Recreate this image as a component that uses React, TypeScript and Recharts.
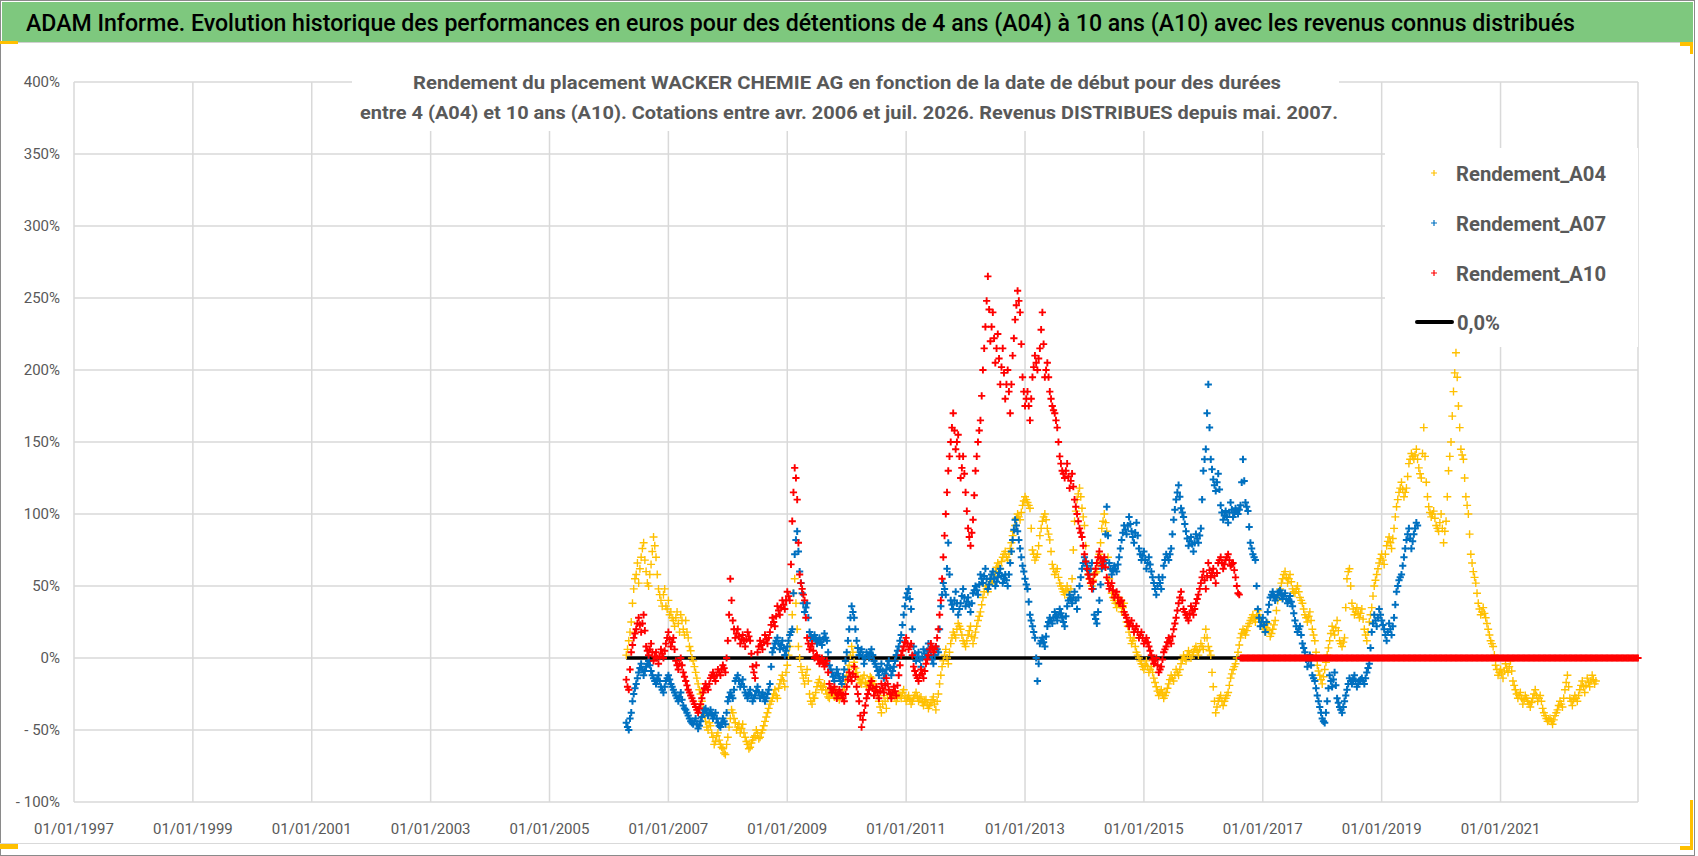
import { ScatterChart, Scatter, XAxis, YAxis, CartesianGrid } from 'recharts'

// samples are half-monthly start dates, the first one mid-April 2006;
// the "b" lists are the readings a quarter-month later (other side of the band)
const START = 2006 + 3.5 / 12
const STEP = 1 / 24
const LINE_END = 2022.99

const yearTicks = [1997, 1999, 2001, 2003, 2005, 2007, 2009, 2011, 2013, 2015, 2017, 2019, 2021]
const pctTicks = [-100, -50, 0, 50, 100, 150, 200, 250, 300, 350, 400]

const title = 'ADAM Informe. Evolution historique des performances en euros pour des détentions de 4 ans (A04) à 10 ans (A10) avec les revenus connus distribués'
const subtitle1 = 'Rendement du placement WACKER CHEMIE AG en fonction de la date de début pour des durées'
const subtitle2 = 'entre 4 (A04) et 10 ans (A10).  Cotations entre avr. 2006 et juil. 2026. Revenus  DISTRIBUES depuis mai. 2007.'

// Rendement_A04 (%), one line per year of start dates
const a04 = [
  2, 12, 25, 48, 58, 52, 70, 80, 60, 50, 65, 84, 70, 48, 40, 44, 36, 40, 32, 26, 28, 24, 30, 20,
  26, 14, 5, -2, -10, -18, -25, -35, -44, -50, -47, -55, -58, -52, -60, -63, -67, -55, -42, -38, -45, -48, -52, -46,
  -55, -60, -62, -57, -54, -52, -55, -50, -44, -38, -32, -28, -22, -28, -18, -12, -20, -5, 8, 30, 55, 20, 0, -10,
  -18, -8, -25, -32, -28, -20, -15, -22, -18, -25, -28, -22, -27, -24, -29, -26, -20, -12, -5, 8, -3, -10, -15, -18,
  -12, -20, -16, -14, -18, -22, -30, -38, -26, -35, -22, -28, -24, -30, -25, -28, -22, -30, -26, -32, -28, -24, -30, -27,
  -33, -29, -35, -31, -27, -36, -25, -12, -2, 6, -4, 10, 18, 14, 24, 20, 12, 8, 16, 22, 10, 18, 26, 32,
  42, 50, 46, 55, 52, 60, 66, 62, 70, 74, 68, 76, 85, 92, 100, 96, 106, 112, 108, 104, 75, 68, 72, 85,
  95, 100, 90, 82, 65, 58, 62, 52, 48, 44, 50, 42, 55, 95, 110, 118, 104, 92, 62, 55, 50, 58, 60, 72,
  90, 100, 88, 55, 45, 40, 35, 42, 32, 38, 25, 18, 10, 14, 4, 0, -4, -8, -2, -10, -6, -14, -20, -26,
  -22, -28, -24, -18, -12, -16, -8, -12, -4, 2, -2, 5, 0, 4, 8, 2, 10, 6, 20, 8, 2, -20, -38, -30,
  -26, -33, -28, -24, -14, -8, -4, 4, 14, 20, 16, 22, 26, 30, 25, 33, 28, 22, 18, 24, 15, 20, 26, 40,
  48, 55, 60, 52, 58, 48, 45, 50, 42, 38, 30, 25, 32, 20, 12, -5, -12, -18, -8, 2, 12, 22, 16, 26,
  12, 8, 14, 55, 62, 38, 30, 35, 28, 34, 20, 12, 25, 35, 50, 58, 66, 72, 65, 78, 84, 76, 90, 105,
  115, 122, 112, 118, 135, 142, 138, 145, 132, 125, 160, 122, 105, 98, 102, 92, 88, 100, 80, 95, 130, 150, 185, 212,
  175, 145, 138, 112, 100, 72, 60, 52, 38, 30, 35, 28, 20, 12, 8, -5, -12, -8, -14, -4, -10, -2, -16, -22,
  -28, -24, -32, -26, -30, -34, -28, -22, -30, -26, -35, -40, -44, -42, -46, -40, -36, -30, -34, -22, -12, -28, -33, -26,
  -30, -22, -16, -24, -14, -20, -12, -18,
]
const a04b = [
  6, 18, 38, 55, 66, 62, 76, 68, 52, 58, 74, 78, 58, 44, 36, 48, 34, 30, 28, 22, 32, 18, 26, 16,
  18, 8, 0, -6, -14, -22, -30, -40, -48, -45, -52, -60, -54, -57, -62, -66, -60, -48, -36, -42, -50, -46, -49, -52,
  -58, -63, -59, -55, -50, -56, -52, -47, -41, -35, -30, -25, -26, -21, -15, -16, -10, 2, 18, 45, 38, 8, -6, -14,
  -12, -16, -30, -28, -24, -17, -19, -20, -22, -27, -24, -25, -23, -27, -25, -22, -16, -8, 2, 4, -7, -13, -17, -14,
  -17, -18, -13, -16, -20, -26, -34, -32, -30, -28, -25, -26, -27, -28, -26, -24, -27, -28, -29, -30, -26, -27, -28, -31,
  -30, -32, -33, -29, -32, -30, -18, -6, 2, 0, 4, 14, 16, 20, 22, 16, 10, 12, 19, 15, 14, 22, 29, 37,
  46, 48, 51, 53, 57, 63, 64, 67, 72, 70, 72, 80, 88, 97, 98, 101, 109, 110, 106, 90, 72, 70, 78, 90,
  98, 96, 86, 74, 62, 60, 56, 50, 46, 47, 46, 48, 75, 102, 114, 112, 98, 78, 58, 52, 54, 59, 66, 80,
  95, 94, 70, 50, 42, 38, 38, 37, 35, 30, 22, 14, 12, 8, 2, -2, -6, -5, -6, -8, -10, -17, -23, -24,
  -25, -26, -21, -15, -14, -12, -10, -8, -1, 0, 2, 2, 2, 6, 5, 6, 8, 14, 14, 5, -10, -30, -34, -28,
  -30, -30, -26, -19, -11, -6, 0, 9, 17, 18, 19, 24, 28, 27, 29, 30, 25, 20, 21, 19, 17, 23, 33, 44,
  52, 58, 56, 55, 53, 46, 48, 46, 40, 34, 28, 29, 26, 16, 4, -9, -15, -13, -3, 7, 17, 19, 21, 19,
  10, 11, 35, 60, 50, 34, 32, 31, 31, 27, 16, 18, 30, 43, 54, 62, 69, 68, 72, 81, 80, 83, 98, 110,
  118, 117, 115, 126, 138, 140, 141, 138, 128, 142, 140, 112, 101, 100, 97, 90, 94, 90, 88, 112, 140, 168, 198, 195,
  160, 141, 125, 106, 86, 66, 56, 45, 34, 32, 31, 24, 16, 10, 2, -8, -10, -11, -9, -7, -6, -9, -19, -25,
  -26, -28, -29, -28, -32, -31, -25, -26, -28, -30, -38, -42, -43, -44, -43, -38, -33, -32, -28, -17, -20, -30, -29, -28,
  -26, -19, -20, -19, -17, -16, -15, -16,
]

// Rendement_A07 (%)
const a07 = [
  -45, -50, -38, -25, -18, -10, -4, -12, -6, -2, -9, -14, -18, -12, -20, -24, -16, -12, -18, -22, -26, -30, -24, -33,
  -36, -40, -44, -46, -42, -49, -44, -38, -35, -40, -36, -42, -38, -45, -48, -42, -46, -30, -24, -28, -16, -12, -20, -15,
  -24, -28, -22, -30, -26, -20, -28, -24, -30, -25, -18, 4, 10, 14, 6, 12, 2, 8, 16, 20, 72, 88, 60, 45,
  32, 38, 18, 12, 16, 10, 14, 9, 17, 12, -5, -10, -16, -8, -14, -18, -8, 4, 20, 36, 28, 12, 2, 6,
  -4, 4, 0, 6, -2, -6, -12, -4, -14, -8, -2, -12, -6, 2, 8, 16, 30, 42, 48, 34, 8, -2, 4, -6,
  6, 0, 10, 2, -4, 8, 4, 36, 52, 44, 80, 40, 34, 46, 30, 38, 48, 36, 42, 32, 45, 50, 44, 58,
  52, 62, 48, 55, 60, 50, 56, 62, 52, 58, 50, 66, 82, 96, 88, 76, 64, 55, 48, 30, 22, 14, -16, 10,
  14, 8, 22, 28, 24, 32, 26, 34, 28, 22, 36, 44, 38, 46, 34, 50, 62, 70, 64, 58, 66, 30, 24, 40,
  62, 68, 105, 66, 58, 64, 60, 70, 82, 92, 86, 98, 88, 80, 94, 76, 68, 74, 62, 70, 60, 52, 44, 56,
  48, 64, 72, 68, 76, 96, 110, 120, 104, 98, 88, 78, 84, 74, 86, 80, 90, 130, 145, 190, 138, 124, 116, 128,
  106, 96, 102, 94, 108, 98, 104, 100, 106, 138, 108, 102, 80, 72, 68, 34, 22, 28, 18, 32, 42, 46, 40, 44,
  47, 41, 45, 38, 43, 36, 26, 18, 22, 10, 4, -6, 2, -12, -16, -26, -34, -42, -45, -30, -12, -20, -10, -28,
  -34, -38, -30, -22, -14, -18, -12, -20, -16, -14, -18, -10, -4, 18, 30, 22, 34, 26, 20, 12, 24, 16, 28, 46,
  54, 58, 70, 82, 90, 76, 86, 94,
]
const a07b = [
  -48, -42, -30, -21, -14, -7, -8, -9, -4, -5, -12, -16, -15, -16, -22, -20, -14, -15, -20, -24, -28, -27, -29, -35,
  -38, -42, -45, -44, -46, -47, -41, -36, -38, -38, -39, -40, -42, -47, -45, -44, -38, -27, -26, -22, -14, -16, -18, -20,
  -26, -25, -26, -28, -23, -24, -26, -27, -28, -22, -6, 7, 12, 10, 9, 7, 5, 12, 18, 45, 82, 74, 52, 38,
  35, 28, 15, 14, 13, 12, 11, 13, 14, 4, -8, -13, -12, -11, -16, -13, -2, 12, 28, 32, 20, 7, 4, 1,
  0, 2, 3, 2, -4, -9, -8, -9, -11, -5, -7, -9, -2, 5, 12, 23, 36, 45, 41, 20, 3, 1, -1, 0,
  3, 5, 6, -1, 2, 6, 20, 44, 48, 62, 58, 37, 40, 38, 34, 43, 42, 39, 37, 38, 47, 47, 51, 55,
  57, 55, 51, 58, 55, 53, 59, 57, 55, 54, 58, 74, 89, 92, 82, 70, 60, 51, 39, 26, 18, 0, -4, 12,
  11, 15, 25, 26, 28, 29, 30, 31, 25, 29, 40, 41, 42, 40, 42, 56, 66, 67, 61, 62, 48, 27, 32, 51,
  65, 86, 85, 62, 61, 62, 65, 76, 87, 89, 92, 93, 84, 87, 85, 72, 71, 68, 66, 65, 56, 48, 50, 52,
  56, 68, 70, 72, 86, 103, 115, 112, 101, 93, 83, 81, 79, 80, 83, 85, 110, 138, 170, 160, 131, 120, 122, 117,
  101, 99, 98, 101, 103, 101, 102, 103, 122, 123, 105, 91, 76, 70, 50, 28, 25, 23, 25, 37, 44, 43, 42, 46,
  44, 43, 41, 40, 39, 31, 22, 20, 16, 7, -1, -2, -5, -14, -21, -30, -38, -44, -38, -21, -16, -15, -19, -31,
  -36, -34, -26, -18, -16, -15, -16, -18, -15, -16, -14, -7, 7, 24, 26, 28, 30, 23, 16, 18, 20, 22, 37, 50,
  56, 64, 76, 86, 83, 81, 90, 92,
]

// Rendement_A10 (%)
const a10 = [
  -15, -22, 4, 14, 20, 28, 18, 30, 8, 2, 10, -2, 4, -4, 6, 0, 10, 18, 8, 14, -2, -8, 0, -10,
  -16, -22, -26, -30, -34, -38, -32, -24, -18, -22, -14, -10, -16, -8, -12, -5, -10, 12, 55, 26, 14, 20, 10, 16,
  8, 18, 12, -6, -14, 4, 12, 6, 16, 10, 18, 28, 22, 36, 30, 40, 34, 46, 40, 95, 132, 110, 58, 48,
  40, 14, 6, 10, 0, 2, -4, 0, -6, -2, -18, -24, -20, -28, -22, -26, -30, -20, -10, -16, -6, -20, -30, -48,
  -38, -28, -22, -16, -26, -20, -28, -18, -24, -14, -22, -28, -20, -26, -12, 2, 8, 14, 6, 10, -6, -12, -16, -8,
  -14, -4, 2, 10, 4, 8, 20, 40, 70, 100, 130, 150, 170, 145, 155, 125, 140, 115, 90, 78, 96, 130, 150, 165,
  200, 230, 265, 220, 240, 205, 225, 190, 215, 180, 200, 170, 210, 235, 255, 240, 195, 175, 185, 165, 195, 210, 200, 215,
  240, 195, 205, 185, 175, 170, 160, 140, 130, 125, 135, 118, 128, 110, 100, 90, 84, 72, 62, 55, 48, 58, 66, 74,
  64, 70, 56, 48, 52, 42, 46, 38, 40, 32, 28, 22, 26, 18, 22, 14, 18, 10, 14, 8, 2, -4, 0, -10,
  -6, 4, 8, 14, 10, 20, 28, 38, 46, 34, 30, 26, 36, 30, 38, 44, 52, 60, 48, 66, 56, 62, 52, 66,
  70, 62, 68, 72, 64, 66, 56, 45,
]
const a10b = [
  -20, -8, 9, 17, 24, 23, 24, 19, 5, 6, 4, 1, 0, 1, 3, 5, 14, 13, 11, 6, -5, -4, -5, -13,
  -19, -24, -28, -32, -36, -35, -28, -21, -20, -18, -12, -13, -12, -10, -8, -7, 0, 30, 40, 20, 17, 15, 13, 12,
  13, 15, 3, -10, -5, 8, 9, 11, 13, 14, 23, 25, 29, 33, 35, 37, 40, 43, 65, 115, 125, 80, 52, 44,
  28, 10, 8, 5, 1, -1, -2, -3, -4, -10, -21, -22, -24, -25, -24, -28, -25, -15, -13, -11, -13, -25, -40, -43,
  -33, -25, -19, -21, -23, -24, -23, -21, -19, -18, -25, -24, -23, -19, -5, 5, 11, 10, 8, 2, -9, -14, -12, -11,
  -9, -1, 6, 7, 6, 14, 30, 55, 85, 115, 140, 160, 158, 150, 140, 132, 128, 102, 84, 87, 113, 140, 158, 182,
  215, 248, 242, 230, 222, 215, 208, 202, 198, 190, 185, 190, 222, 245, 248, 218, 185, 180, 175, 180, 202, 205, 208, 228,
  218, 200, 195, 180, 172, 165, 150, 135, 128, 130, 126, 123, 119, 105, 95, 87, 78, 67, 58, 52, 53, 62, 70, 69,
  67, 63, 52, 50, 47, 44, 42, 39, 36, 30, 25, 24, 22, 20, 18, 16, 14, 12, 11, 5, -1, -2, -5, -8,
  -1, 6, 11, 12, 15, 24, 33, 42, 40, 32, 28, 31, 33, 34, 41, 48, 56, 54, 57, 61, 59, 57, 59, 68,
  66, 65, 70, 68, 65, 61, 50, 44,
]

// A10 after July 2016: plotted at 0 until the end of the axis
const a10Tail = [
  0, 0, 0, 0, 0, 0, 0, 0, 0, 0, 0, 0, 0, 0, 0, 0,
  0, 0, 0, 0, 0, 0, 0, 0, 0, 0, 0, 0, 0, 0, 0, 0, 0, 0, 0, 0, 0, 0, 0, 0,
  0, 0, 0, 0, 0, 0, 0, 0, 0, 0, 0, 0, 0, 0, 0, 0, 0, 0, 0, 0, 0, 0, 0, 0,
  0, 0, 0, 0, 0, 0, 0, 0, 0, 0, 0, 0, 0, 0, 0, 0, 0, 0, 0, 0, 0, 0, 0, 0,
  0, 0, 0, 0, 0, 0, 0, 0, 0, 0, 0, 0, 0, 0, 0, 0, 0, 0, 0, 0, 0, 0, 0, 0,
  0, 0, 0, 0, 0, 0, 0, 0, 0, 0, 0, 0, 0, 0, 0, 0, 0, 0, 0, 0, 0, 0, 0, 0,
  0, 0, 0, 0, 0, 0, 0, 0, 0, 0, 0, 0, 0, 0, 0, 0, 0, 0, 0, 0, 0, 0, 0, 0,
  0,
]

const zeroLine = [{ x: START, y: 0 }, { x: LINE_END, y: 0 }]

const toPoints = (vals: number[], offset = 0) =>
  vals.map((y, i) => ({ x: START + (i + offset) * STEP, y }))

const YELLOW = '#FFC000'
const BLUE = '#0070C0'
const RED = '#FF0000'
const GREY = '#595959'
const FONT = 'Roboto, "Open Sans", sans-serif'

const cross = (color: string, r: number, w: number) => (props: any) => {
  const { cx, cy } = props
  if (cx == null || cy == null) return <g />
  return <path d={`M${cx - r},${cy}H${cx + r}M${cx},${cy - r}V${cy + r}`} stroke={color} strokeWidth={w} fill="none" />
}

const yellowCross = cross(YELLOW, 4, 1.4)
const blueCross = cross(BLUE, 3.6, 2)
const redCross = cross(RED, 3.6, 1.9)

const fmtPct = (v: number) => (v < 0 ? `- ${-v}%` : `${v}%`)

const legendItems = [
  { name: 'Rendement_A04', color: YELLOW },
  { name: 'Rendement_A07', color: BLUE },
  { name: 'Rendement_A10', color: RED },
]

export default function App() {
  return (
    <div style={{ position: 'absolute', left: 0, top: 0, width: 1698, height: 856, background: '#fff', fontFamily: FONT }}>
      <ScatterChart width={1698} height={856} margin={{ top: 82, right: 60, bottom: 0, left: 0 }}>
        <CartesianGrid stroke="#D9D9D9" strokeWidth={1.5} />
        <XAxis
          type="number"
          dataKey="x"
          domain={[1997, 2023]}
          ticks={yearTicks}
          interval={0}
          height={54}
          axisLine={false}
          tickLine={false}
          tickSize={0}
          tickMargin={21}
          tickFormatter={(v) => `01/01/${v}`}
          tick={{ fill: GREY, fontSize: 15, fontFamily: FONT }}
        />
        <YAxis
          type="number"
          dataKey="y"
          domain={[-100, 400]}
          ticks={pctTicks}
          interval={0}
          width={74}
          axisLine={false}
          tickLine={false}
          tickSize={0}
          tickMargin={14}
          tickFormatter={fmtPct}
          tick={{ fill: GREY, fontSize: 15, fontFamily: FONT }}
        />
        <Scatter data={zeroLine} line={{ stroke: '#000', strokeWidth: 3.5 }} shape={() => <g />} isAnimationActive={false} />
        <Scatter data={toPoints(a04)} shape={yellowCross} isAnimationActive={false} />
        <Scatter data={toPoints(a04b, 0.5)} shape={yellowCross} isAnimationActive={false} />
        <Scatter data={toPoints(a07)} shape={blueCross} isAnimationActive={false} />
        <Scatter data={toPoints(a07b, 0.5)} shape={blueCross} isAnimationActive={false} />
        <Scatter data={toPoints(a10)} shape={redCross} isAnimationActive={false} />
        <Scatter data={toPoints(a10b, 0.5)} shape={redCross} isAnimationActive={false} />
        <Scatter data={toPoints(a10Tail, a10.length)} shape={redCross} isAnimationActive={false} />
        <Scatter data={toPoints(a10Tail, a10.length + 0.5)} shape={redCross} isAnimationActive={false} />
      </ScatterChart>

      <svg width={1698} height={856} style={{ position: 'absolute', left: 0, top: 0, pointerEvents: 'none' }}>
        {/* frame and banner */}
        <rect x={0.5} y={0.5} width={1694} height={855} fill="none" stroke="#8A8A8A" />
        <line x1={0} x2={1693} y1={843.5} y2={843.5} stroke="#D9D9D9" />
        <rect x={2} y={2} width={1691} height={40} fill="#7EC87E" />
        <line x1={2} x2={1693} y1={42.5} y2={42.5} stroke="#D0D0D0" />
        <text x={26} y={31} fontSize={24.5} fontWeight={500} fontFamily={FONT} fill="#000" textLength={1549} lengthAdjust="spacingAndGlyphs">{title}</text>

        {/* chart title box */}
        <rect x={352} y={60} width={987} height={71} fill="#fff" />
        <text x={847} y={89} textAnchor="middle" fontSize={17.5} fontWeight={700} fontFamily={FONT} fill={GREY} textLength={868} lengthAdjust="spacingAndGlyphs">{subtitle1}</text>
        <text x={849} y={119} textAnchor="middle" fontSize={17.5} fontWeight={700} fontFamily={FONT} fill={GREY} textLength={978} lengthAdjust="spacingAndGlyphs">{subtitle2}</text>

        {/* legend */}
        <rect x={1385} y={148} width={253} height={199} fill="#fff" />
        {legendItems.map((it, i) => {
          const cy = 173 + i * 50
          return (
            <g key={it.name}>
              <path d={`M1431,${cy}H1437M1434,${cy - 3}V${cy + 3}`} stroke={it.color} strokeWidth={1.2} />
              <text x={1456} y={cy + 7.5} fontSize={20.5} fontWeight={700} fontFamily={FONT} fill={GREY} textLength={150} lengthAdjust="spacingAndGlyphs">{it.name}</text>
            </g>
          )
        })}
        <line x1={1417} x2={1452} y1={322} y2={322} stroke="#000" strokeWidth={4} strokeLinecap="round" />
        <text x={1457} y={329.5} fontSize={20.5} fontWeight={700} fontFamily={FONT} fill={GREY} textLength={43} lengthAdjust="spacingAndGlyphs">0,0%</text>

        {/* selection handles */}
        <rect x={0} y={41} width={18} height={3} fill={YELLOW} />
        <rect x={1680} y={42} width={13} height={4} fill={YELLOW} />
        <rect x={1690} y={42} width={3} height={12} fill={YELLOW} />
        <rect x={0} y={844} width={18} height={5} fill={YELLOW} />
        <rect x={1690} y={800} width={3} height={50} fill={YELLOW} />
        <rect x={1680} y={846} width={13} height={4} fill={YELLOW} />
      </svg>
    </div>
  )
}
